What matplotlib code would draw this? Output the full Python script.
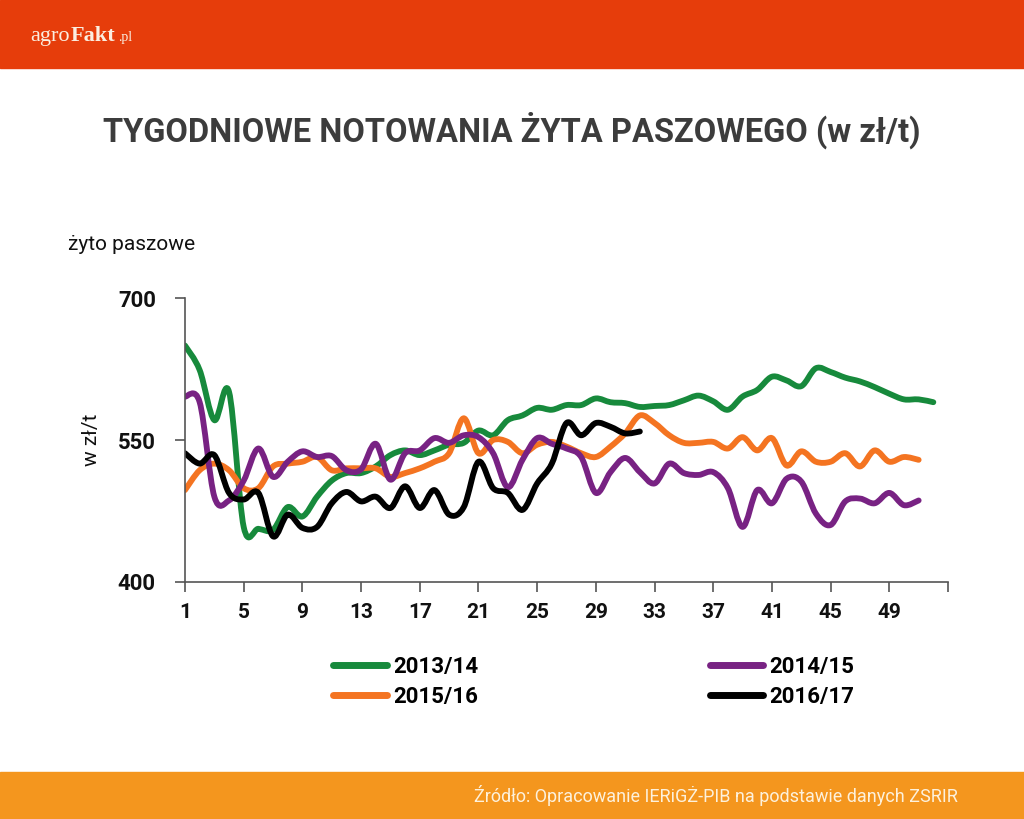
import matplotlib
matplotlib.use("Agg")
import matplotlib.pyplot as plt
from matplotlib.patches import Rectangle, PathPatch
from matplotlib.path import Path
from matplotlib.lines import Line2D

# weekly prices of feed rye, zl/t
weeks_1314 = list(range(1, 53))
rye_1314 = [650, 624, 571, 601, 458, 456, 455, 479, 469, 490, 507, 515, 515, 522, 534, 539,
            534, 539, 545, 547, 560, 555, 571, 576, 584, 582, 587, 587, 594, 590, 589, 585,
            586, 587, 592, 597, 591, 582, 596, 603, 617, 613, 607, 626, 622, 616, 612, 606,
            599, 593, 593, 590]
weeks_1415 = list(range(1, 52))
rye_1415 = [596, 590, 490, 486, 507, 541, 511, 527, 538, 532, 533, 518, 519, 546, 508, 536,
            539, 552, 547, 555, 553, 536, 500, 529, 552, 546, 541, 532, 494, 516, 531, 516,
            504, 525, 515, 513, 516, 499, 458, 497, 483, 509, 506, 472, 460, 485, 488, 483,
            494, 481, 486]
weeks_1516 = list(range(1, 52))
rye_1516 = [497, 518, 525, 518, 499, 499, 522, 525, 527, 532, 518, 520, 520, 520, 511, 515,
            520, 527, 536, 573, 536, 550, 548, 536, 545, 548, 543, 536, 532, 543, 557, 576,
            568, 555, 547, 547, 548, 541, 553, 539, 552, 523, 538, 527, 527, 536, 522, 539,
            527, 532, 529]
weeks_1617 = list(range(1, 33))
rye_1617 = [536, 525, 534, 494, 487, 494, 448, 471, 457, 458, 483, 495, 485, 490, 478, 501,
            478, 497, 471, 479, 527, 499, 494, 476, 504, 525, 568, 555, 568, 564, 557, 559]

series = [("2013/14", weeks_1314, rye_1314, "#178a3c"),
          ("2015/16", weeks_1516, rye_1516, "#f47421"),
          ("2014/15", weeks_1415, rye_1415, "#782283"),
          ("2016/17", weeks_1617, rye_1617, "#000000")]

x_ticks = list(range(1, 54, 4))
x_labels = [str(t) if t < 53 else "" for t in x_ticks]
y_ticks = [400, 550, 700]

cond = ["Roboto", "DejaVu Sans"]


def smooth_path(xs, ys, k=1 / 6):
    # excel-like smoothed line: cubic bezier through the data points
    verts = [(xs[0], ys[0])]
    codes = [Path.MOVETO]
    n = len(xs)
    for i in range(n - 1):
        x0, y0 = (xs[i - 1], ys[i - 1]) if i > 0 else (xs[i], ys[i])
        x3, y3 = (xs[i + 2], ys[i + 2]) if i + 2 < n else (xs[i + 1], ys[i + 1])
        c1 = (xs[i] + (xs[i + 1] - x0) * k, ys[i] + (ys[i + 1] - y0) * k)
        c2 = (xs[i + 1] - (x3 - xs[i]) * k, ys[i + 1] - (y3 - ys[i]) * k)
        verts += [c1, c2, (xs[i + 1], ys[i + 1])]
        codes += [Path.CURVE4] * 3
    return Path(verts, codes)


fig = plt.figure(figsize=(10.24, 8.19), dpi=100)

# header and footer bands
fig.patches.append(Rectangle((0, 1 - 68 / 819), 1, 68 / 819, transform=fig.transFigure,
                             color="#e63d0b", zorder=0))
fig.patches.append(Rectangle((0, 0), 1, 47 / 819, transform=fig.transFigure,
                             color="#f4961e", zorder=0))

serif = ["Liberation Serif", "DejaVu Serif"]
fig.text(30 / 1024, 1 - 41 / 819, "agro", color="#fbeee0", fontsize=16, family=serif,
         va="baseline")
fig.text(71 / 1024, 1 - 41 / 819, "Fakt", color="#fbeee0", fontsize=16, weight="bold",
         family=serif, va="baseline")
fig.text(118 / 1024, 1 - 41 / 819, ".pl", color="#fbeee0", fontsize=10, family=serif,
         va="baseline")

fig.text(512 / 1024, 1 - 130 / 819, "TYGODNIOWE NOTOWANIA ŻYTA PASZOWEGO (w zł/t)", ha="center",
         va="center", fontsize=23.5, weight="bold", color="#3c3c3c", family=cond)

fig.text(68 / 1024, 1 - 245 / 819, "żyto paszowe", fontsize=15, color="#111111",
         family=cond, va="center")

fig.text(958 / 1024, 1 - 796 / 819, "Źródło: Opracowanie IERiGŻ-PIB na podstawie danych ZSRIR",
         ha="right", va="center", fontsize=13, color="#fdf1dc", family=cond)

ax = fig.add_axes([185 / 1024, 1 - 581.7 / 819, (948 - 185) / 1024, 283.4 / 819])
handles = []
for label, wk, vals, col in series:
    ax.add_patch(PathPatch(smooth_path(wk, vals), fill=False, edgecolor=col, lw=4.2,
                           joinstyle="round", capstyle="round"))
    handles.append(Line2D([], [], color=col, lw=5, solid_capstyle="round", label=label))

ax.set_xlim(1, 53)
ax.set_ylim(400, 700)
ax.set_xticks(x_ticks)
ax.set_xticklabels(x_labels)
ax.set_yticks(y_ticks)
for s in ["top", "right"]:
    ax.spines[s].set_visible(False)
for s in ["left", "bottom"]:
    ax.spines[s].set_color("#555555")
    ax.spines[s].set_linewidth(1.2)
ax.tick_params(axis="both", colors="#555555", length=7, width=1.2, direction="out")
ax.tick_params(axis="x", labelcolor="#111111", labelsize=15, pad=8)
ax.tick_params(axis="y", labelcolor="#111111", labelsize=16, pad=14)
for t in ax.get_xticklabels() + ax.get_yticklabels():
    t.set_fontweight("bold")
    t.set_family(cond)
ax.set_ylabel("w zł/t", fontsize=15, family=cond, color="#111111", labelpad=12)

leg = fig.legend(handles=handles, ncol=2, loc="center", bbox_to_anchor=(594 / 1024, 1 - 682 / 819),
                 frameon=False, handlelength=2.4, handletextpad=0.3, columnspacing=10.4,
                 labelspacing=0.35, prop={"family": cond, "weight": "bold", "size": 16})

fig.savefig("out.png", dpi=100)
